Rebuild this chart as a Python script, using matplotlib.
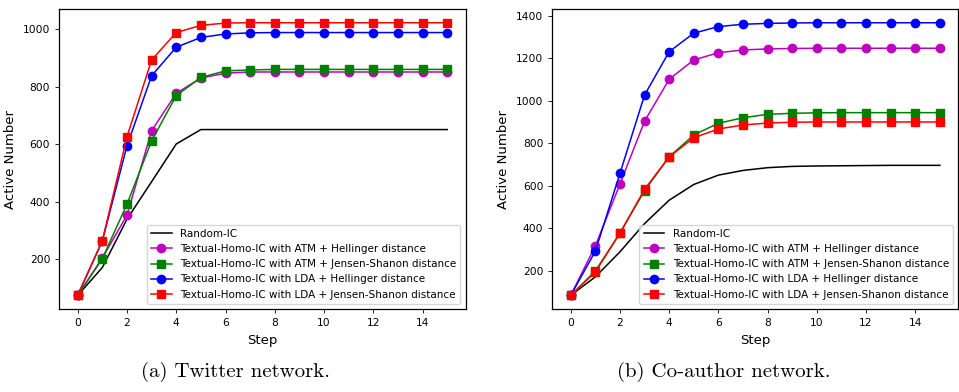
import numpy as np
import matplotlib
matplotlib.use("Agg")
import matplotlib.pyplot as plt

steps = list(range(16))
labels = ["Random-IC",
          "Textual-Homo-IC with ATM + Hellinger distance",
          "Textual-Homo-IC with ATM + Jensen-Shanon distance",
          "Textual-Homo-IC with LDA + Hellinger distance",
          "Textual-Homo-IC with LDA + Jensen-Shanon distance"]

# Twitter network
tw_random = [75, 172, 340, 470, 601, 651, 651, 651, 651, 651, 651, 651, 651, 651, 651, 651]
tw_atm_hel = [75, 205, 354, 647, 777, 830, 847, 851, 851, 851, 851, 851, 851, 851, 851, 851]
tw_atm_js = [75, 203, 392, 612, 769, 832, 855, 858, 860, 860, 860, 860, 860, 860, 860, 860]
tw_lda_hel = [75, 265, 595, 838, 937, 971, 983, 987, 988, 988, 988, 988, 988, 988, 988, 988]
tw_lda_js = [76, 265, 626, 893, 988, 1013, 1021, 1022, 1022, 1022, 1022, 1022, 1022, 1022, 1022, 1022]

# Co-author network
co_random = [85, 172, 290, 423, 533, 607, 651, 673, 686, 692, 694, 695, 696, 697, 697, 697]
co_atm_hel = [85, 318, 609, 905, 1102, 1193, 1227, 1240, 1245, 1247, 1248, 1248, 1248, 1248, 1248, 1248]
co_atm_js = [85, 200, 378, 578, 737, 840, 895, 921, 937, 942, 944, 945, 945, 945, 945, 945]
co_lda_hel = [85, 293, 659, 1028, 1232, 1319, 1350, 1361, 1365, 1367, 1368, 1368, 1368, 1368, 1368, 1368]
co_lda_js = [85, 195, 378, 584, 737, 827, 868, 887, 896, 900, 901, 901, 901, 901, 901, 901]

styles = [dict(color="black"),
          dict(color="m", marker="o"),
          dict(color="g", marker="s"),
          dict(color="b", marker="o"),
          dict(color="r", marker="s")]

fig = plt.figure(figsize=(9.59, 3.92), dpi=100)
ax1 = fig.add_axes([0.0618, 0.2117, 0.4238, 0.765])
ax2 = fig.add_axes([0.5759, 0.2117, 0.4234, 0.765])

for ax, series in [(ax1, [tw_random, tw_atm_hel, tw_atm_js, tw_lda_hel, tw_lda_js]),
                   (ax2, [co_random, co_atm_hel, co_atm_js, co_lda_hel, co_lda_js])]:
    for ys, lab, st in zip(series, labels, styles):
        ax.plot(steps, ys, label=lab, lw=1.1, ms=6, **st)
    ax.set_xticks(range(0, 16, 2))
    ax.tick_params(labelsize=7.7, length=3, width=0.6)
    ax.set_xlabel("Step", fontsize=9.5)
    ax.set_ylabel("Active Number", fontsize=9.5)
    for s in ax.spines.values():
        s.set_linewidth(0.9)
    ax.legend(loc="lower right", fontsize=7.5, framealpha=0.8)

fig.text(0.246, 0.052, "(a) Twitter network.", ha="center", va="center",
         family="cmr10", fontsize=15)
fig.text(0.755, 0.052, "(b) Co-author network.", ha="center", va="center",
         family="cmr10", fontsize=15)

fig.savefig("out.png", dpi=100)
